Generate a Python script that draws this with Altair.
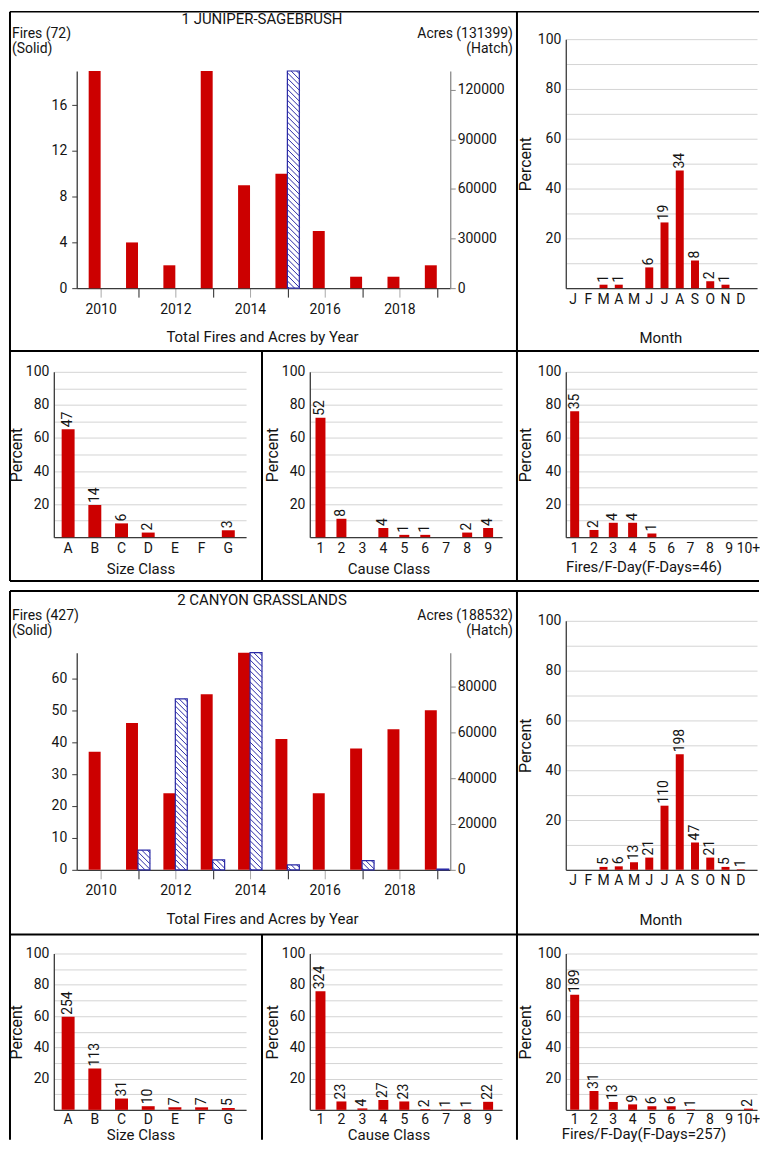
import altair as alt
import pandas as pd

# ---------------- data ----------------
YEARS = list(range(2010, 2020))
AREA_NAMES = ["1 JUNIPER-SAGEBRUSH", "2 CANYON GRASSLANDS"]
FIRES_1 = [19, 4, 2, 19, 9, 10, 5, 1, 1, 2]
ACRES_1 = [0, 0, 0, 0, 0, 131399, 0, 0, 0, 0]
FIRES_2 = [37, 46, 24, 55, 68, 41, 24, 38, 44, 50]
ACRES_2 = [0, 8600, 74500, 4300, 94600, 2200, 0, 4000, 0, 332]
FIRE_TICKS_1 = [0, 4, 8, 12, 16]
ACRE_TICKS_1 = [0, 30000, 60000, 90000, 120000]
FIRE_TICKS_2 = [0, 10, 20, 30, 40, 50, 60]
ACRE_TICKS_2 = [0, 20000, 40000, 60000, 80000]

MONTH_NUMS = list(range(1, 13))
MONTH_LABELS = ["J", "F", "M", "A", "M", "J", "J", "A", "S", "O", "N", "D"]
MONTH_1 = [0, 0, 1, 1, 0, 6, 19, 34, 8, 2, 1, 0]
MONTH_2 = [0, 0, 5, 6, 13, 21, 110, 198, 47, 21, 5, 1]

SIZE_CLASSES = ["A", "B", "C", "D", "E", "F", "G"]
SIZE_1 = [47, 14, 6, 2, 0, 0, 3]
SIZE_2 = [254, 113, 31, 10, 7, 7, 5]

CAUSE_CLASSES = ["1", "2", "3", "4", "5", "6", "7", "8", "9"]
CAUSE_1 = [52, 8, 0, 4, 1, 1, 0, 2, 4]
CAUSE_2 = [324, 23, 4, 27, 23, 2, 1, 1, 22]

FDAY_CLASSES = ["1", "2", "3", "4", "5", "6", "7", "8", "9", "10+"]
FDAY_1 = [35, 2, 4, 4, 1, 0, 0, 0, 0, 0]
FDAY_2 = [189, 31, 13, 9, 6, 6, 1, 0, 0, 2]

# ---------------- styles ----------------
FONT = "Roboto"
LABEL_SIZE = 14
TITLE_SIZE = 15
RED = "#cc0000"
HATCH = "#2a2aa6"
AXIS_DARK = "#3a3a3a"
AXIS_GRAY = "#8a8a8a"
GRID = "#d4d4d4"
TXT = "#141414"

# ---------------- layout (pixels) ----------------
ROW_SP, COL_SP = 84, 64
H_TOP = 250
H_BOT = [166, 157]
W_LEFT, W_FRAME, W_RIGHT = 193, 1, 192
ROW_TOPS = [37, 371, 621, 955]       # page positions of the plot rows
X_COLS = [54, 311, 568]              # page positions of the three columns
YEAR_RANGE = [23, 398]
YEAR_DOMAIN = [2009.36, 2019.36]
Y_TOP = 32
BAR_W = 0.32
HATCH_SP = 5.5

ONE = pd.DataFrame({"k": [0]})


def hatch_frame(acres, amax):
    px_year = (YEAR_RANGE[1] - YEAR_RANGE[0]) / (YEAR_DOMAIN[1] - YEAR_DOMAIN[0])
    px_acre = (H_TOP - Y_TOP) / amax
    w = BAR_W * px_year
    rows = []
    for yr, a in zip(YEARS, acres):
        h = a * px_acre
        if h <= 0:
            continue
        c = -w + HATCH_SP * 0.5
        while c < h:
            xa = max(0.0, -c)
            xb = min(w, h - c)
            if xb > xa:
                rows.append({
                    "xa": yr + xa / px_year, "xb": yr + xb / px_year,
                    "ya": a - (xa + c) / px_acre, "yb": a - (xb + c) / px_acre,
                })
            c += HATCH_SP
    return pd.DataFrame(rows, columns=["xa", "xb", "ya", "yb"])


def txt(text, x, y, align, size=TITLE_SIZE):
    return alt.Chart(ONE).mark_text(
        text=text, align=align, baseline="middle", fontSize=size, font=FONT, color=TXT
    ).encode(x=alt.value(x), y=alt.value(y))


def rule(x1, y1, x2, y2, width=2.0):
    return alt.Chart(ONE).mark_rule(color="#000000", strokeWidth=width).encode(
        x=alt.value(x1), x2=alt.value(x2), y=alt.value(y1), y2=alt.value(y2)
    )


def frame_cell(top, mid, bottom, vbottom, row_top, top_width):
    ox, oy = X_COLS[1], row_top
    left, right = 10, 762
    segs = [(left, top, right, top, top_width), (left, mid, right, mid, 2.0)]
    if bottom is not None:
        segs.append((left, bottom, right, bottom, 2.0))
    segs += [(left, top, left, vbottom, 2.0), (519, top, 519, vbottom, 2.0),
             (263, mid, 263, vbottom, 2.0)]
    layers = [rule(a - ox, b - oy, c - ox, d - oy, w) for a, b, c, d, w in segs]
    return alt.layer(*layers).properties(width=W_FRAME, height=H_TOP)


def year_panel(name, fires, acres, fire_ticks, acre_ticks):
    df = pd.DataFrame({"year": YEARS, "fires": fires, "acres": acres})
    fmax, amax = max(fires), max(acres)
    ox = X_COLS[0]
    xscale = alt.Scale(domain=YEAR_DOMAIN, range=YEAR_RANGE, nice=False, zero=False)
    xaxis = alt.Axis(
        values=YEARS, format="d", labelExpr="datum.value % 2 == 0 ? datum.label : ''",
        tickSize=9,
        tickColor={"condition": {"test": "datum.value % 2 == 1", "value": "#222222"}, "value": "#a8a8a8"},
        labelPadding=5, labelFlush=False, labelOverlap=False, domainColor=AXIS_DARK,
        title="Total Fires and Acres by Year", titleX=263 - ox, titleY=49,
        titleAlign="center", titleBaseline="middle", grid=False,
    )
    fscale = alt.Scale(domain=[0, fmax], range=[H_TOP, Y_TOP], nice=False, zero=True)
    ascale = alt.Scale(domain=[0, amax], range=[H_TOP, Y_TOP], nice=False, zero=True)
    faxis = alt.Axis(
        orient="left", offset=-YEAR_RANGE[0], values=fire_ticks, tickSize=5, labelPadding=5,
        domainColor=AXIS_DARK, tickColor=AXIS_DARK, title=None, grid=False,
        labelOverlap=False, labelFlush=False,
    )
    aaxis = alt.Axis(
        orient="right", offset=YEAR_RANGE[1] - W_LEFT, values=acre_ticks, format="d",
        tickSize=5, labelPadding=2, domainColor=AXIS_GRAY, tickColor=AXIS_GRAY,
        title=None, grid=False, labelOverlap=False, labelFlush=False,
    )
    fires_bars = alt.Chart(df).transform_calculate(
        x0=f"datum.year - {BAR_W}", base="0"
    ).mark_rect(color=RED).encode(
        x=alt.X("x0:Q", scale=xscale, axis=xaxis), x2="year:Q",
        y=alt.Y("fires:Q", scale=fscale, axis=faxis), y2="base:Q",
    )
    acres_rect = alt.Chart(df[df["acres"] > 0]).transform_calculate(
        x1=f"datum.year + {BAR_W}", base="0"
    ).mark_rect(fill="white", stroke=HATCH, strokeWidth=1.2).encode(
        x=alt.X("year:Q", scale=xscale, axis=xaxis), x2="x1:Q",
        y=alt.Y("acres:Q", scale=ascale, axis=aaxis), y2="base:Q",
    )
    hatch = alt.Chart(hatch_frame(acres, amax)).mark_rule(color=HATCH, strokeWidth=1).encode(
        x=alt.X("xa:Q", scale=xscale, axis=xaxis), x2="xb:Q",
        y=alt.Y("ya:Q", scale=ascale, axis=aaxis), y2="yb:Q",
    )
    texts = [
        txt(name, 263 - ox, -20.5, "center"),
        txt(f"Fires ({sum(fires)})", 12 - ox, -5.3, "left", 14),
        txt("(Solid)", 12 - ox, 10, "left", 14),
        txt(f"Acres ({sum(acres)})", 515 - ox, -5.3, "right", 14),
        txt("(Hatch)", 515 - ox, 10, "right", 14),
    ]
    return alt.layer(
        fires_bars, alt.layer(acres_rect, hatch), *texts
    ).resolve_scale(y="independent").properties(width=W_LEFT, height=H_TOP)


def pct_panel(cats, counts, ordinal, width, height, pad_in, pad_out, align,
              xtitle, title_x, title_y, ytitle_x, label_expr=None, label_pad=4):
    total = sum(counts)
    df = pd.DataFrame({"cat": cats, "count": counts,
                       "pct": [100.0 * c / total for c in counts]})
    ax_kw = dict(
        title=xtitle, labelAngle=0, ticks=False, tickSize=0, labelPadding=label_pad,
        domainColor=AXIS_DARK, titleX=title_x, titleY=title_y,
        titleAlign="center", titleBaseline="middle", labelOverlap=False, grid=False,
    )
    if label_expr:
        ax_kw["labelExpr"] = label_expr
    xscale = alt.Scale(paddingInner=pad_in, paddingOuter=pad_out, align=align)
    if ordinal:
        xenc = alt.X("cat:O", scale=xscale, axis=alt.Axis(**ax_kw))
    else:
        xenc = alt.X("cat:N", sort=cats, scale=xscale, axis=alt.Axis(**ax_kw))
    yenc = alt.Y(
        "pct:Q", scale=alt.Scale(domain=[0, 100], nice=False),
        axis=alt.Axis(
            values=list(range(0, 101, 10)),
            labelExpr="datum.value > 0 && datum.value % 20 == 0 ? datum.label : ''",
            grid=True, gridColor=GRID, ticks=False, tickSize=0, labelPadding=5,
            domainColor=AXIS_DARK, title="Percent", titleFontSize=16, titleAngle=270,
            titleX=ytitle_x, titleY=height / 2, titleAlign="center", titleBaseline="middle",
            labelOverlap=False, labelFlush=False,
        ),
    )
    bars = alt.Chart(df).mark_bar(color=RED).encode(x=xenc, y=yenc)
    labels = alt.Chart(df).transform_filter("datum.count > 0").mark_text(
        angle=270, align="left", baseline="middle", dx=2, fontSize=LABEL_SIZE, font=FONT, color=TXT
    ).encode(x=xenc, y=yenc, text="count:Q")
    return alt.layer(bars, labels).properties(width=width, height=height)


month_expr = "[" + ",".join(f"'{m}'" for m in MONTH_LABELS) + "][datum.value - 1]"

cells = []
groups = [
    (AREA_NAMES[0], FIRES_1, ACRES_1, FIRE_TICKS_1, ACRE_TICKS_1, MONTH_1, SIZE_1, CAUSE_1, FDAY_1,
     (9.5, 350, 581, 581), 1.5, 0, (31.5, 31.5, 29.5), 4),
    (AREA_NAMES[1], FIRES_2, ACRES_2, FIRE_TICKS_2, ACRE_TICKS_2, MONTH_2, SIZE_2, CAUSE_2, FDAY_2,
     (591, 936, None, 1142), 2.0, 1, (25, 25, 24), 3),
]
for name, fires, acres, ft, at, month, size, cause, fday, frame, tw, gi, tys, lp in groups:
    top_row = ROW_TOPS[2 * gi]
    hb = H_BOT[gi]
    cells.append(year_panel(name, fires, acres, ft, at))
    cells.append(frame_cell(*frame, row_top=top_row, top_width=tw))
    cells.append(pct_panel(MONTH_NUMS, month, True, W_RIGHT, H_TOP, 0.477, 0.51, 0.21,
                           "Month", 95, 50, -40, label_expr=month_expr))
    cells.append(pct_panel(SIZE_CLASSES, size, False, W_LEFT, hb, 0.515, 0.358, 0.41,
                           "Size Class", 87, tys[0], -37.5, label_pad=lp))
    cells.append(pct_panel(CAUSE_CLASSES, cause, False, W_LEFT, hb, 0.525, 0.349, 0.39,
                           "Cause Class", 79, tys[1], -37.5, label_pad=lp))
    cells.append(pct_panel(FDAY_CLASSES, fday, False, W_RIGHT, hb, 0.535, 0.22, 0.52,
                           f"Fires/F-Day(F-Days={sum(fday)})", 78, tys[2], -40, label_pad=lp))

chart = alt.concat(
    *cells, columns=3,
    spacing={"row": ROW_SP, "column": COL_SP},
    bounds="flush",
    align="each",
).properties(padding=0, background="white").configure_view(stroke=None).configure_axis(
    labelFont=FONT, titleFont=FONT, labelFontSize=LABEL_SIZE, titleFontSize=TITLE_SIZE,
    titleFontWeight="normal", labelColor=TXT, titleColor=TXT, domainWidth=1.3,
)

chart.save("out.html", embed_options={"renderer": "svg", "actions": False})
